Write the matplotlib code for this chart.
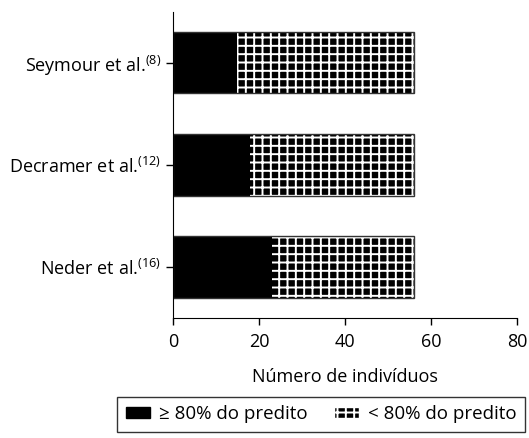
import matplotlib
matplotlib.use('Agg')
import matplotlib.pyplot as plt
from matplotlib.patches import Patch

plt.rcParams['font.family'] = ['Open Sans', 'DejaVu Sans']
plt.rcParams['hatch.linewidth'] = 1.4
plt.rcParams['hatch.color'] = 'white'

studies = ['Neder et al.$^{\\mathregular{(16)}}$',
           'Decramer et al.$^{\\mathregular{(12)}}$',
           'Seymour et al.$^{\\mathregular{(8)}}$']
above80 = [23, 18, 15]
below80 = [33, 38, 41]
series_labels = ['\u2265 80% do predito', '< 80% do predito']

fig = plt.figure(figsize=(5.29, 4.38), dpi=100)
ax = fig.add_axes([0.327, 0.274, 0.650, 0.699])

pos = list(range(len(studies)))
ax.barh(pos, above80, height=0.6, color='black', edgecolor='black', linewidth=0)
ax.barh(pos, below80, left=above80, height=0.6, color='black',
        edgecolor='white', hatch='++', linewidth=0)
totals = [a + b for a, b in zip(above80, below80)]
ax.barh(pos, totals, height=0.6, fill=False, edgecolor='#333333', linewidth=1.0)

ax.set_xlim(0, 80)
ax.set_ylim(-0.5, 2.5)
ax.set_xticks([0, 20, 40, 60, 80])
ax.set_yticks(pos)
ax.set_yticklabels(studies)
ax.tick_params(labelsize=13, length=5, width=1)
ax.tick_params(axis='x', pad=6)
ax.spines['top'].set_visible(False)
ax.spines['right'].set_visible(False)
ax.set_xlabel('Número de indivíduos', fontsize=13, labelpad=12)

handles = [Patch(facecolor='black', edgecolor='black', label=series_labels[0]),
           Patch(facecolor='black', edgecolor='white', hatch='++', label=series_labels[1])]
leg = fig.legend(handles=handles, loc='lower right', ncol=2,
                 bbox_to_anchor=(0.996, 0.01), fontsize=13.5, frameon=True,
                 fancybox=False, edgecolor='black', handlelength=1.3,
                 handleheight=0.5, columnspacing=1.4, handletextpad=0.5,
                 borderpad=0.45, borderaxespad=0.1)
leg.get_frame().set_linewidth(1.0)

fig.savefig('out.png', dpi=100)
